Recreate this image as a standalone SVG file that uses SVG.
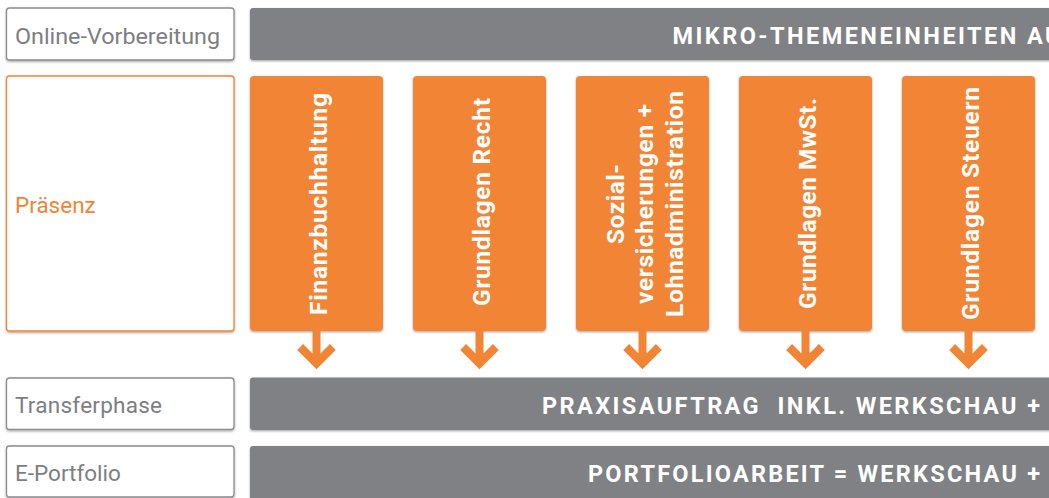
<svg xmlns="http://www.w3.org/2000/svg" width="1049" height="498" viewBox="0 0 1049 498">
<defs>
<filter id="sh" x="-10%" y="-10%" width="120%" height="130%">
<feDropShadow dx="0" dy="1.2" stdDeviation="1.3" flood-color="#000" flood-opacity="0.35"/>
</filter>
<polygon id="arr" points="-4,331 -4,353.5 -13.4,344.1 -19.3,350 0,369.3 19.3,350 13.4,344.1 4,353.5 4,331"/>
</defs>
<style>
.lbl{fill:#fff;stroke:#8a8b8e;stroke-width:1.3;filter:url(#sh)}
.lblo{fill:#fff;stroke:#f28535;stroke-width:1.3;filter:url(#sh)}
.bar{fill:#808184;filter:url(#sh)}
.unit{fill:#f28535;filter:url(#sh)}
.lt{font-family:Roboto,"Liberation Sans",sans-serif;font-size:22.5px;fill:#7d7e81}
.bt{font-family:Roboto,"Liberation Sans",sans-serif;font-size:23.5px;font-weight:bold;fill:#fff;white-space:pre}
.vt{font-family:Roboto,"Liberation Sans",sans-serif;font-size:24.5px;font-weight:bold;fill:#fff;text-anchor:middle}
.arrow{fill:#f28535}
</style>
<rect width="1049" height="498" fill="#fff"/>

<g id="online-label"><rect class="lbl" x="6.5" y="8" width="227.5" height="52" rx="3"/><text class="lt" x="15" y="44" textLength="205" lengthAdjust="spacingAndGlyphs">Online-Vorbereitung</text></g>
<g id="online-bar"><rect class="bar" x="250" y="8" width="820" height="52" rx="3"/><text class="bt" x="672.5" y="43.5" textLength="388" lengthAdjust="spacing">MIKRO-THEMENEINHEITEN AU</text></g>

<g id="praesenz-label"><rect class="lblo" x="6.5" y="76" width="227.5" height="255" rx="3"/><text class="lt" x="15" y="213" style="fill:#f28535">Präsenz</text></g>

<g id="unit1"><rect class="unit" x="250" y="76" width="133" height="255" rx="4"/>
<text class="vt" transform="translate(316.5,204) rotate(-90)"><tspan x="0" y="10.5" textLength="222" lengthAdjust="spacing">Finanzbuchhaltung</tspan></text></g>
<g id="unit2"><rect class="unit" x="413" y="76" width="133" height="255" rx="4"/>
<text class="vt" transform="translate(479.5,202) rotate(-90)"><tspan x="0" y="10.5" textLength="208" lengthAdjust="spacing">Grundlagen Recht</tspan></text></g>
<g id="unit3"><rect class="unit" x="576" y="76" width="133" height="255" rx="4"/>
<text class="vt" transform="translate(642.5,204) rotate(-90)"><tspan x="0" y="-19" textLength="80" lengthAdjust="spacing">Sozial-</tspan><tspan x="0" y="10.5" textLength="200" lengthAdjust="spacing">versicherungen +</tspan><tspan x="0" y="40" textLength="226" lengthAdjust="spacing">Lohnadministration</tspan></text></g>
<g id="unit4"><rect class="unit" x="739" y="76" width="133" height="255" rx="4"/>
<text class="vt" transform="translate(805.5,203.5) rotate(-90)"><tspan x="0" y="10.5" textLength="211" lengthAdjust="spacing">Grundlagen MwSt.</tspan></text></g>
<g id="unit5"><rect class="unit" x="902" y="76" width="133" height="255" rx="4"/>
<text class="vt" transform="translate(968.5,203.5) rotate(-90)"><tspan x="0" y="10.5" textLength="233" lengthAdjust="spacing">Grundlagen Steuern</tspan></text></g>

<g id="connectors" class="arrow">
<use href="#arr" x="316.5"/>
<use href="#arr" x="479.5"/>
<use href="#arr" x="642.5"/>
<use href="#arr" x="805.5"/>
<use href="#arr" x="968.5"/>
</g>

<g id="transfer-label"><rect class="lbl" x="6.5" y="378" width="227.5" height="51.5" rx="3"/><text class="lt" x="15" y="413" textLength="147" lengthAdjust="spacing">Transferphase</text></g>
<g id="transfer-bar"><rect class="bar" x="250" y="377.5" width="820" height="52.5" rx="3"/><text class="bt" x="542" y="413.5" textLength="498" lengthAdjust="spacing">PRAXISAUFTRAG  INKL. WERKSCHAU +</text></g>

<g id="portfolio-label"><rect class="lbl" x="6.5" y="446" width="227.5" height="51" rx="3"/><text class="lt" x="15" y="481">E-Portfolio</text></g>
<g id="portfolio-bar"><rect class="bar" x="250" y="446" width="820" height="60" rx="3"/><text class="bt" x="588" y="482" textLength="452" lengthAdjust="spacing">PORTFOLIOARBEIT = WERKSCHAU +</text></g>
</svg>
